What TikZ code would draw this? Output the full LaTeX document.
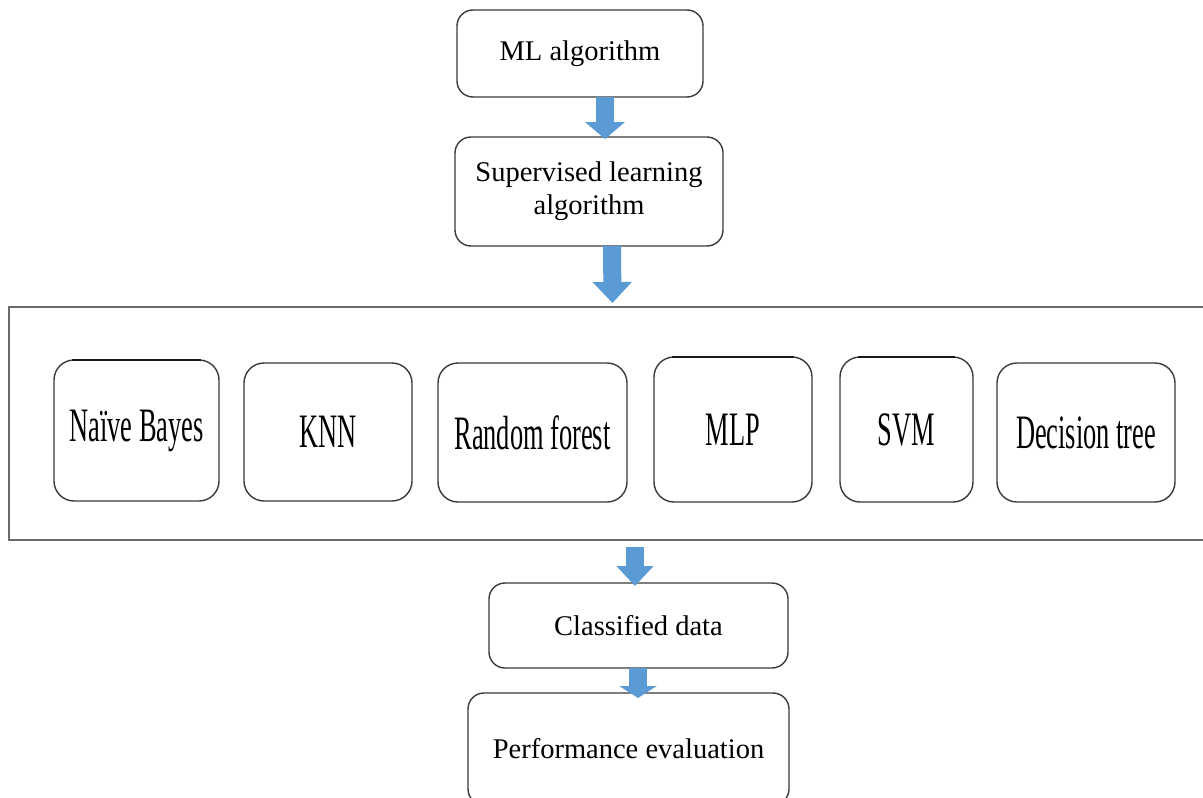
\documentclass[tikz,border=0pt]{standalone}
\usepackage{fontspec}
\setmainfont{Liberation Serif}
\usetikzlibrary{arrows.meta,calc}
\definecolor{flowblue}{HTML}{5B9BD5}
\definecolor{boxline}{HTML}{3A3A3A}
\definecolor{frameline}{HTML}{6A6A6A}
\tikzset{
  stagebox/.style={draw=boxline, line width=1.4pt, rounded corners=16pt, fill=white,
    inner sep=0pt, outer sep=0pt, align=center, font=\fontsize{28.5}{33}\selectfont},
  algobox/.style={draw=boxline, line width=1.4pt, rounded corners=20pt, fill=white,
    inner sep=0pt, outer sep=0pt},
  heavytop/.style={draw=black!90, line width=2.4pt},
  groupframe/.style={draw=frameline, line width=2pt, inner sep=0pt, outer sep=0pt},
  flowarrow/.style n args={2}{draw=flowblue, line width=18pt,
    -{Triangle[width=#1,length=#2]}},
}
\newcommand{\algolabel}[1]{\scalebox{0.55}[1]{\fontsize{48}{56}\selectfont #1}}

\begin{document}
\begin{tikzpicture}[x=1pt,y=-1pt]
\useasboundingbox (0,0) rectangle (1203,798);
\clip (0,0) rectangle (1203,798);

% pipeline stages
\node[stagebox, minimum width=246pt, minimum height=87pt] (ml) at (580,53.5) {ML algorithm};
\node[stagebox, minimum width=268pt, minimum height=109pt] (sup) at (589,191.5)
  {Supervised learning\\algorithm};

% group of classifiers
\node[groupframe, minimum width=1206pt, minimum height=233pt] (frame) at (612,423.5) {};
\node[algobox, minimum width=165pt, minimum height=141pt] (nb)  at (136.5,430.5) {\algolabel{Naïve Bayes}};
\node[algobox, minimum width=168pt, minimum height=138pt] (knn) at (328,432)     {\algolabel{KNN}};
\node[algobox, minimum width=189pt, minimum height=139pt] (rf)  at (532.5,432.5) {\algolabel{Random forest}};
\node[algobox, minimum width=158pt, minimum height=145pt] (mlp) at (733,429.5)   {\algolabel{MLP}};
\node[algobox, minimum width=133pt, minimum height=145pt] (svm) at (906.5,429.5) {\algolabel{SVM}};
\node[algobox, minimum width=178pt, minimum height=139pt] (dt)  at (1086,432.5)  {\algolabel{Decision tree}};

% heavier top edges on some of the classifier boxes
\foreach \b in {nb,mlp,svm}
  \draw[heavytop] ([xshift=18pt]\b.north west) -- ([xshift=-18pt]\b.north east);

\node[stagebox, minimum width=299pt, minimum height=85pt] (cls) at (638.5,625.5) {Classified data};
\node[stagebox, minimum width=321pt, minimum height=112pt] (perf) at (628.5,749) {Performance evaluation};

% flow arrows
\draw[flowarrow={39pt}{17pt}] ([xshift=25pt]ml.south) -- ($(sup.north)+(16,2)$);
\draw[flowarrow={38pt}{21pt}] (sup.south -| frame.north) -- ($(frame.north)+(0.5,-4)$);
\draw[flowarrow={36pt}{20pt}] ($(cls.north |- frame.south)+(-3.5,7)$) -- ($(cls.north)+(-3.5,3)$);
\draw[flowarrow={37pt}{12pt}] ($(cls.south)+(-0.5,0)$) -- ($(perf.north)+(9.5,5)$);
\end{tikzpicture}
\end{document}
